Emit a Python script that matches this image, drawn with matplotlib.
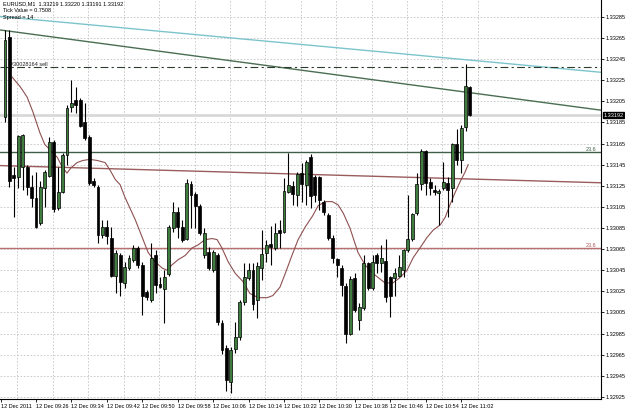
import matplotlib
matplotlib.use("Agg")
import matplotlib.pyplot as plt
import matplotlib.transforms as mtransforms

# EURUSD M1, 12 Dec 2011 -- one entry per minute bar, bar 0 = 09:19
opens = [1.33190, 1.33266, 1.33135, 1.33133, 1.33143, 1.33143, 1.33124, 1.33113, 1.33090, 1.33123,
         1.33134, 1.33166, 1.33104, 1.33119, 1.33154, 1.33200, 1.33206, 1.33206, 1.33185, 1.33171,
         1.33130, 1.33124, 1.33078, 1.33086, 1.33076, 1.33040, 1.33059, 1.33033, 1.33047, 1.33055,
         1.33066, 1.33050, 1.33024, 1.33017, 1.33059, 1.33032, 1.33027, 1.33041, 1.33085, 1.33100,
         1.33086, 1.33075, 1.33127, 1.33117, 1.33106, 1.33059, 1.33062, 1.33045, 1.33059, 1.32995,
         1.32971, 1.32939, 1.32970, 1.32982, 1.33015, 1.33038, 1.33045, 1.33017, 1.33047, 1.33061,
         1.33070, 1.33066, 1.33083, 1.33081, 1.33119, 1.33125, 1.33116, 1.33137, 1.33126, 1.33152,
         1.33133, 1.33133, 1.33110, 1.33097, 1.33076, 1.33056, 1.33047, 1.33030, 1.32985, 1.33038,
         1.32998, 1.33009, 1.33052, 1.33028, 1.33059, 1.33052, 1.33054, 1.33039, 1.33038, 1.33040,
         1.33045, 1.33064, 1.33075, 1.33099, 1.33127, 1.33158, 1.33129, 1.33121, 1.33118, 1.33123,
         1.33128, 1.33123, 1.33165, 1.33149, 1.33181, 1.33219]
highs = [1.33273, 1.33273, 1.33143, 1.33173, 1.33174, 1.33145, 1.33135, 1.33138, 1.33130, 1.33140,
         1.33171, 1.33168, 1.33143, 1.33156, 1.33202, 1.33225, 1.33219, 1.33208, 1.33203, 1.33173,
         1.33132, 1.33126, 1.33093, 1.33093, 1.33086, 1.33064, 1.33061, 1.33053, 1.33059, 1.33069,
         1.33068, 1.33053, 1.33026, 1.33071, 1.33064, 1.33039, 1.33045, 1.33088, 1.33110, 1.33105,
         1.33093, 1.33131, 1.33130, 1.33119, 1.33108, 1.33085, 1.33067, 1.33064, 1.33061, 1.32998,
         1.32974, 1.32972, 1.32996, 1.33017, 1.33052, 1.33052, 1.33052, 1.33053, 1.33083, 1.33074,
         1.33087, 1.33090, 1.33093, 1.33132, 1.33156, 1.33130, 1.33138, 1.33147, 1.33149, 1.33155,
         1.33135, 1.33134, 1.33112, 1.33099, 1.33078, 1.33057, 1.33050, 1.33033, 1.33040, 1.33042,
         1.33014, 1.33059, 1.33053, 1.33059, 1.33061, 1.33069, 1.33075, 1.33040, 1.33047, 1.33059,
         1.33065, 1.33116, 1.33099, 1.33137, 1.33160, 1.33159, 1.33132, 1.33126, 1.33122, 1.33148,
         1.33133, 1.33166, 1.33179, 1.33183, 1.33240, 1.33220]
lows = [1.33185, 1.33124, 1.33095, 1.33123, 1.33121, 1.33116, 1.33105, 1.33085, 1.33088, 1.33105,
        1.33133, 1.33100, 1.33102, 1.33118, 1.33145, 1.33195, 1.33194, 1.33181, 1.33168, 1.33126,
        1.33124, 1.33071, 1.33076, 1.33070, 1.33039, 1.33023, 1.33021, 1.33028, 1.33045, 1.33053,
        1.33047, 1.33003, 1.33017, 1.33015, 1.33023, 1.33028, 1.32995, 1.33040, 1.33081, 1.33076,
        1.33072, 1.33074, 1.33085, 1.33085, 1.33078, 1.33057, 1.33045, 1.33043, 1.32993, 1.32966,
        1.32931, 1.32929, 1.32967, 1.32979, 1.33012, 1.33036, 1.33007, 1.33000, 1.33036, 1.33053,
        1.33050, 1.33064, 1.33066, 1.33080, 1.33118, 1.33107, 1.33106, 1.33110, 1.33107, 1.33104,
        1.33110, 1.33102, 1.33097, 1.33074, 1.33052, 1.33039, 1.33021, 1.32976, 1.32984, 1.33005,
        1.32988, 1.33007, 1.33026, 1.33026, 1.33042, 1.33043, 1.33015, 1.33001, 1.33021, 1.33039,
        1.33039, 1.33062, 1.33073, 1.33097, 1.33121, 1.33116, 1.33116, 1.33116, 1.33088, 1.33121,
        1.33095, 1.33110, 1.33145, 1.33137, 1.33177, 1.33191]
closes = [1.33263, 1.33130, 1.33132, 1.33172, 1.33173, 1.33124, 1.33113, 1.33086, 1.33124, 1.33138,
          1.33166, 1.33103, 1.33119, 1.33154, 1.33199, 1.33203, 1.33202, 1.33182, 1.33170, 1.33128,
          1.33126, 1.33078, 1.33086, 1.33077, 1.33040, 1.33061, 1.33034, 1.33048, 1.33057, 1.33066,
          1.33050, 1.33021, 1.33020, 1.33057, 1.33031, 1.33029, 1.33039, 1.33086, 1.33100, 1.33086,
          1.33074, 1.33128, 1.33116, 1.33106, 1.33080, 1.33080, 1.33047, 1.33062, 1.32996, 1.32969,
          1.32941, 1.32969, 1.32982, 1.33015, 1.33039, 1.33045, 1.33013, 1.33049, 1.33060, 1.33069,
          1.33067, 1.33080, 1.33080, 1.33120, 1.33126, 1.33117, 1.33136, 1.33127, 1.33148, 1.33115,
          1.33116, 1.33112, 1.33100, 1.33076, 1.33057, 1.33050, 1.33031, 1.32985, 1.33037, 1.33007,
          1.33010, 1.33052, 1.33028, 1.33053, 1.33052, 1.33057, 1.33020, 1.33021, 1.33042, 1.33048,
          1.33064, 1.33075, 1.33098, 1.33127, 1.33158, 1.33128, 1.33123, 1.33119, 1.33120, 1.33129,
          1.33121, 1.33165, 1.33149, 1.33180, 1.33220, 1.33192]

# moving average (bar position, price)
ma_bar = [1.6, 3.4, 5.0, 6.3, 7.9, 9.0, 10.2, 11.8, 12.9, 14.0, 14.9, 16.3, 17.6, 19.2, 20.8,
          22.6, 23.7, 24.9, 26.0, 27.1, 29.4, 31.0, 32.3, 33.9, 35.5, 36.6, 37.7, 39.1, 40.7,
          42.2, 43.6, 45.2, 46.8, 47.9, 49.0, 50.4, 52.0, 53.8, 55.3, 57.2, 59.2, 60.5, 62.1,
          63.3, 64.8, 66.2, 67.8, 69.4, 70.7, 72.3, 73.9, 75.2, 76.4, 77.9, 79.7, 81.3, 83.1,
          84.3, 85.8, 87.6, 89.2, 90.8, 92.2, 93.7, 95.3, 96.7, 98.3, 99.4, 100.5, 101.7, 102.8,
          103.9, 104.6]
ma_val = [1.33228, 1.33219, 1.33209, 1.33195, 1.33175, 1.33164, 1.33159, 1.33152, 1.33143,
          1.33137, 1.33142, 1.33147, 1.33149, 1.33150, 1.33149, 1.33147, 1.33140, 1.33131,
          1.33126, 1.33114, 1.33093, 1.33076, 1.33062, 1.33053, 1.33047, 1.33045, 1.33050,
          1.33055, 1.33059, 1.33066, 1.33069, 1.33074, 1.33075, 1.33074, 1.33066, 1.33053,
          1.33042, 1.33034, 1.33023, 1.33019, 1.33019, 1.33021, 1.33029, 1.33042, 1.33059,
          1.33074, 1.33086, 1.33096, 1.33106, 1.33110, 1.33110, 1.33107, 1.33099, 1.33085,
          1.33062, 1.33050, 1.33042, 1.33038, 1.33033, 1.33033, 1.33038, 1.33045, 1.33057,
          1.33066, 1.33076, 1.33083, 1.33088, 1.33095, 1.33107, 1.33119, 1.33129, 1.33138,
          1.33145]

# trend lines: (bar, price) at bar 0 and bar 100
cyan_trend = [(0, 1.33285), (100, 1.33246)]
green_trend = [(0, 1.33272), (100, 1.33216)]
brown_trend = [(0, 1.33144), (100, 1.33132)]
fibo_green = 1.33157
fibo_red = 1.33066
order_price = 1.33238
bid = 1.33192

time_ticks = [-1, 7, 15, 23, 31, 39, 47, 55, 63, 71, 79, 87, 95, 103]
time_labels = ["12 Dec 2011", "12 Dec 09:26", "12 Dec 09:34", "12 Dec 09:42", "12 Dec 09:50",
               "12 Dec 09:58", "12 Dec 10:06", "12 Dec 10:14", "12 Dec 10:22", "12 Dec 10:30",
               "12 Dec 10:38", "12 Dec 10:46", "12 Dec 10:54", "12 Dec 11:02"]
price_ticks = [1.32925, 1.32945, 1.32965, 1.32985, 1.33005, 1.33025, 1.33045, 1.33065, 1.33085,
               1.33105, 1.33125, 1.33145, 1.33165, 1.33185, 1.33205, 1.33225, 1.33245, 1.33265,
               1.33285]

plt.rcParams['font.family'] = ['Liberation Sans', 'DejaVu Sans']
FS = 4.0

fig = plt.figure(figsize=(6.25, 4.12), dpi=100)
ax = fig.add_axes([0.0, 13 / 412, 601 / 625, 399 / 412])
ax.set_xlim(-1.13, 134.6)
ax.set_ylim(1.32923, 1.33301)

# grid
for p in price_ticks:
    ax.axhline(p, color='#c4c4c4', lw=0.6, ls=(0, (2, 2)), zorder=0)
for t in time_ticks:
    ax.axvline(t + 3.8, color='#c4c4c4', lw=0.6, ls=(0, (2, 2)), zorder=0)

# objects
ax.axhline(bid, color='#d8d8d8', lw=2.0, zorder=1)
ax.axline(cyan_trend[0], cyan_trend[1], color='#7cc4cc', lw=1.0, zorder=2)
ax.axline(green_trend[0], green_trend[1], color='#4a6e52', lw=1.0, zorder=2)
ax.axline(brown_trend[0], brown_trend[1], color='#9a5c5c', lw=1.0, zorder=2)
ax.axhline(fibo_green, color='#3f6048', lw=1.0, zorder=2)
ax.axhline(fibo_red, color='#b87070', lw=1.0, zorder=2)
ax.axhline(order_price, color='#2c3c2c', lw=0.8, ls=(0, (7, 3, 2, 3)), zorder=2)
ax.plot(ma_bar, ma_val, color='#8e5050', lw=0.8, zorder=2)

# candles
bars = list(range(len(opens)))
for i in bars:
    up = closes[i] >= opens[i]
    ax.vlines(i, lows[i], highs[i], color='black', lw=0.8, zorder=3)
    body = max(abs(closes[i] - opens[i]), 0.000012)
    ax.bar(i, body, bottom=min(opens[i], closes[i]), width=0.66,
           color='#3f7d3f' if up else 'black', edgecolor='black', lw=0.5, zorder=4)

# texts
trans = mtransforms.blended_transform_factory(ax.transAxes, ax.transData)
ax.text(0.992, fibo_green, "23.6", transform=trans, ha='right', va='bottom',
        fontsize=FS, color='#3f6048')
ax.text(0.992, fibo_red, "23.6", transform=trans, ha='right', va='bottom',
        fontsize=FS, color='#b05858')
ax.text(0.016, order_price, "#30028164 sell", transform=trans, ha='left', va='bottom',
        fontsize=FS, color='#222222')
ax.text(1.004, bid, "1.33192", transform=trans, ha='left', va='center', fontsize=FS,
        color='white', bbox=dict(boxstyle='square,pad=0.15', fc='black', ec='black'), zorder=6)

fig.text(3 / 625, 1 - 4 / 412, "EURUSD,M1  1.33219 1.33220 1.33191 1.33192",
         fontsize=FS, va='center', ha='left')
fig.text(3 / 625, 1 - 10.5 / 412, "Tick Value = 0.7508", fontsize=FS, va='center', ha='left')
fig.text(3 / 625, 1 - 17 / 412, "Spread = 14", fontsize=FS, va='center', ha='left')

# axes
ax.yaxis.tick_right()
ax.set_yticks(price_ticks)
ax.set_yticklabels(["%.5f" % p for p in price_ticks])
ax.set_xticks(time_ticks)
ax.set_xticklabels(time_labels, ha='left')
ax.tick_params(axis='both', labelsize=FS, length=2, width=0.6, pad=1.5, colors='black')
for side in ['top', 'left']:
    ax.spines[side].set_visible(False)
for side in ['right', 'bottom']:
    ax.spines[side].set_linewidth(0.8)

fig.savefig("out.png", dpi=100)
